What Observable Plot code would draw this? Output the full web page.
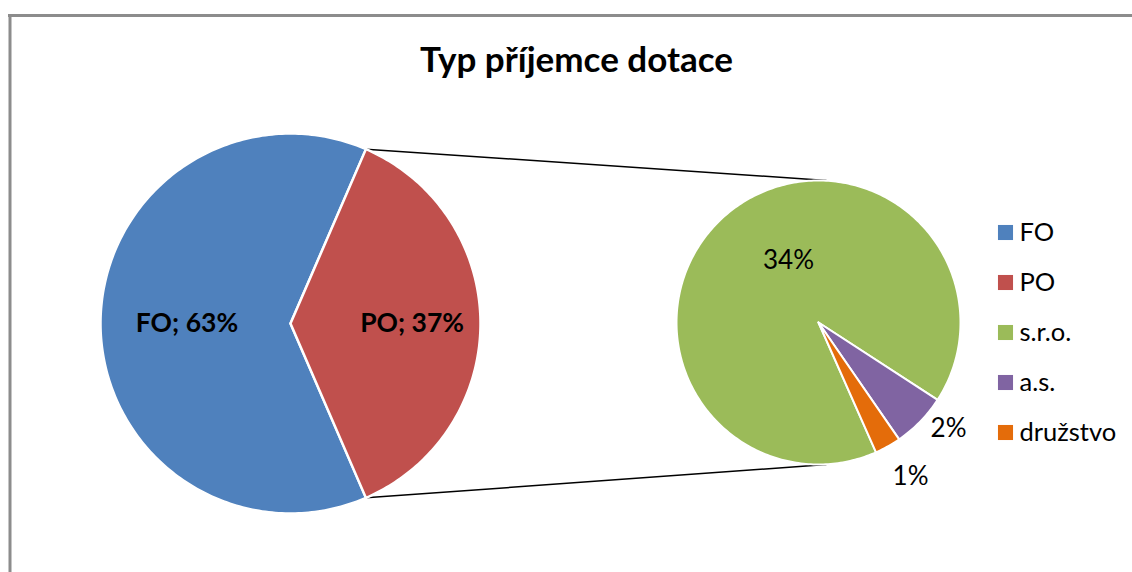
<!DOCTYPE html>
<html><head><meta charset="utf-8">
<script src="https://cdn.jsdelivr.net/npm/d3@7"></script>
<script src="https://cdn.jsdelivr.net/npm/@observablehq/plot@0.6"></script>
<style>html,body{margin:0;background:#fff;overflow:hidden}svg{display:block}</style>
</head><body><div id="chart"></div>
<script>
const title = "Typ příjemce dotace";
const mainCategories = ["FO", "PO"];
const mainValues = [63, 37];
const mainLabels = ["FO; 63%", "PO; 37%"];
const subCategories = ["s.r.o.", "a.s.", "družstvo"];
const subValues = [33.6, 2.3, 1.1];
const subLabels = ["34%", "2%", "1%"];
const legendItems = ["FO", "PO", "s.r.o.", "a.s.", "družstvo"];
const colors = ["#4F81BD", "#C0504D", "#9BBB59", "#8064A2", "#E46C0A"];

const deg = Math.PI / 180;
const main = {cx: 290, cy: 323, r: 190, start: 156.6 * deg};
const sec = {cx: 818, cy: 322, r: 142, start: 156.1 * deg};

function arcs(values, cats, geo) {
  const pie = d3.pie().sort(null).startAngle(geo.start).endAngle(geo.start + 2 * Math.PI);
  return pie(values).map((a, i) => ({...a, cat: cats[i]}));
}
function polygon(a, geo) {
  const pts = [{x: geo.cx, y: geo.cy, cat: a.cat}];
  const n = Math.max(4, Math.ceil((a.endAngle - a.startAngle) / deg));
  for (let k = 0; k <= n; k++) {
    const t = a.startAngle + (a.endAngle - a.startAngle) * k / n;
    pts.push({x: geo.cx + geo.r * Math.sin(t), y: geo.cy - geo.r * Math.cos(t), cat: a.cat});
  }
  pts.push({x: geo.cx, y: geo.cy, cat: a.cat});
  return pts;
}
const mainArcs = arcs(mainValues, mainCategories, main);
const subArcs = arcs(subValues, subCategories, sec);
const mainPts = mainArcs.flatMap(a => polygon(a, main));
const subPts = subArcs.flatMap(a => polygon(a, sec));
const color = {domain: legendItems, range: colors};

const po = mainArcs[1];
const links = [
  {x1: main.cx + main.r * Math.sin(po.startAngle), y1: main.cy - main.r * Math.cos(po.startAngle), x2: sec.cx + 8, y2: sec.cy - sec.r},
  {x1: main.cx + main.r * Math.sin(po.endAngle), y1: main.cy - main.r * Math.cos(po.endAngle), x2: sec.cx + 8, y2: sec.cy + sec.r}
];

function labelPos(a, geo, f) {
  const m = (a.startAngle + a.endAngle) / 2;
  return {x: geo.cx + f * geo.r * Math.sin(m), y: geo.cy - f * geo.r * Math.cos(m)};
}
const mainLabelData = mainArcs.map((a, i) => ({...labelPos(a, main, [0.545, 0.64][i]), text: mainLabels[i]}));
const subLabelData = [
  {x: sec.cx - 30, y: sec.cy - 62, text: subLabels[0]},
  {x: sec.cx + 130, y: sec.cy + 106, text: subLabels[1]},
  {x: sec.cx + 92, y: sec.cy + 154, text: subLabels[2]}
];
const legendData = legendItems.map((c, i) => ({cat: c, x: 1005, y: 232 + i * 50}));

const font = "Lato, 'Open Sans', sans-serif";
const chart = Plot.plot({
  width: 1132, height: 572,
  margin: 0,
  x: {domain: [0, 1132], axis: null},
  y: {domain: [0, 572], reverse: true, axis: null},
  color,
  style: {fontFamily: font, background: "#fff"},
  marks: [
    Plot.ruleX([9.5], {y1: 14, y2: 572, stroke: "#8c8c8c", strokeWidth: 3}),
    Plot.ruleY([15], {x1: 8, x2: 1140, stroke: "#8c8c8c", strokeWidth: 3}),
    Plot.link(links, {x1: "x1", y1: "y1", x2: "x2", y2: "y2", stroke: "#000", strokeWidth: 1.5}),
    Plot.line(mainPts, {x: "x", y: "y", z: "cat", fill: "cat", stroke: "#fff", strokeWidth: 2.5, curve: "linear"}),
    Plot.line(subPts, {x: "x", y: "y", z: "cat", fill: "cat", stroke: "#fff", strokeWidth: 2, curve: "linear"}),
    Plot.text(mainLabelData, {x: "x", y: "y", text: "text", fontSize: 26.5, fontWeight: "bold", fill: "#000"}),
    Plot.text(subLabelData, {x: "x", y: "y", text: "text", fontSize: 26, fill: "#000"}),
    Plot.text([title], {x: 576, y: 60, text: d => d, fontSize: 35, fontWeight: "bold", fill: "#000"}),
    Plot.dot(legendData, {x: "x", y: "y", symbol: "square", r: 8.5, fill: "cat", stroke: null}),
    Plot.text(legendData, {x: d => d.x + 14, y: "y", text: "cat", textAnchor: "start", fontSize: 25.5, fill: "#000"})
  ]
});
document.getElementById("chart").append(chart);
</script>
</body></html>
